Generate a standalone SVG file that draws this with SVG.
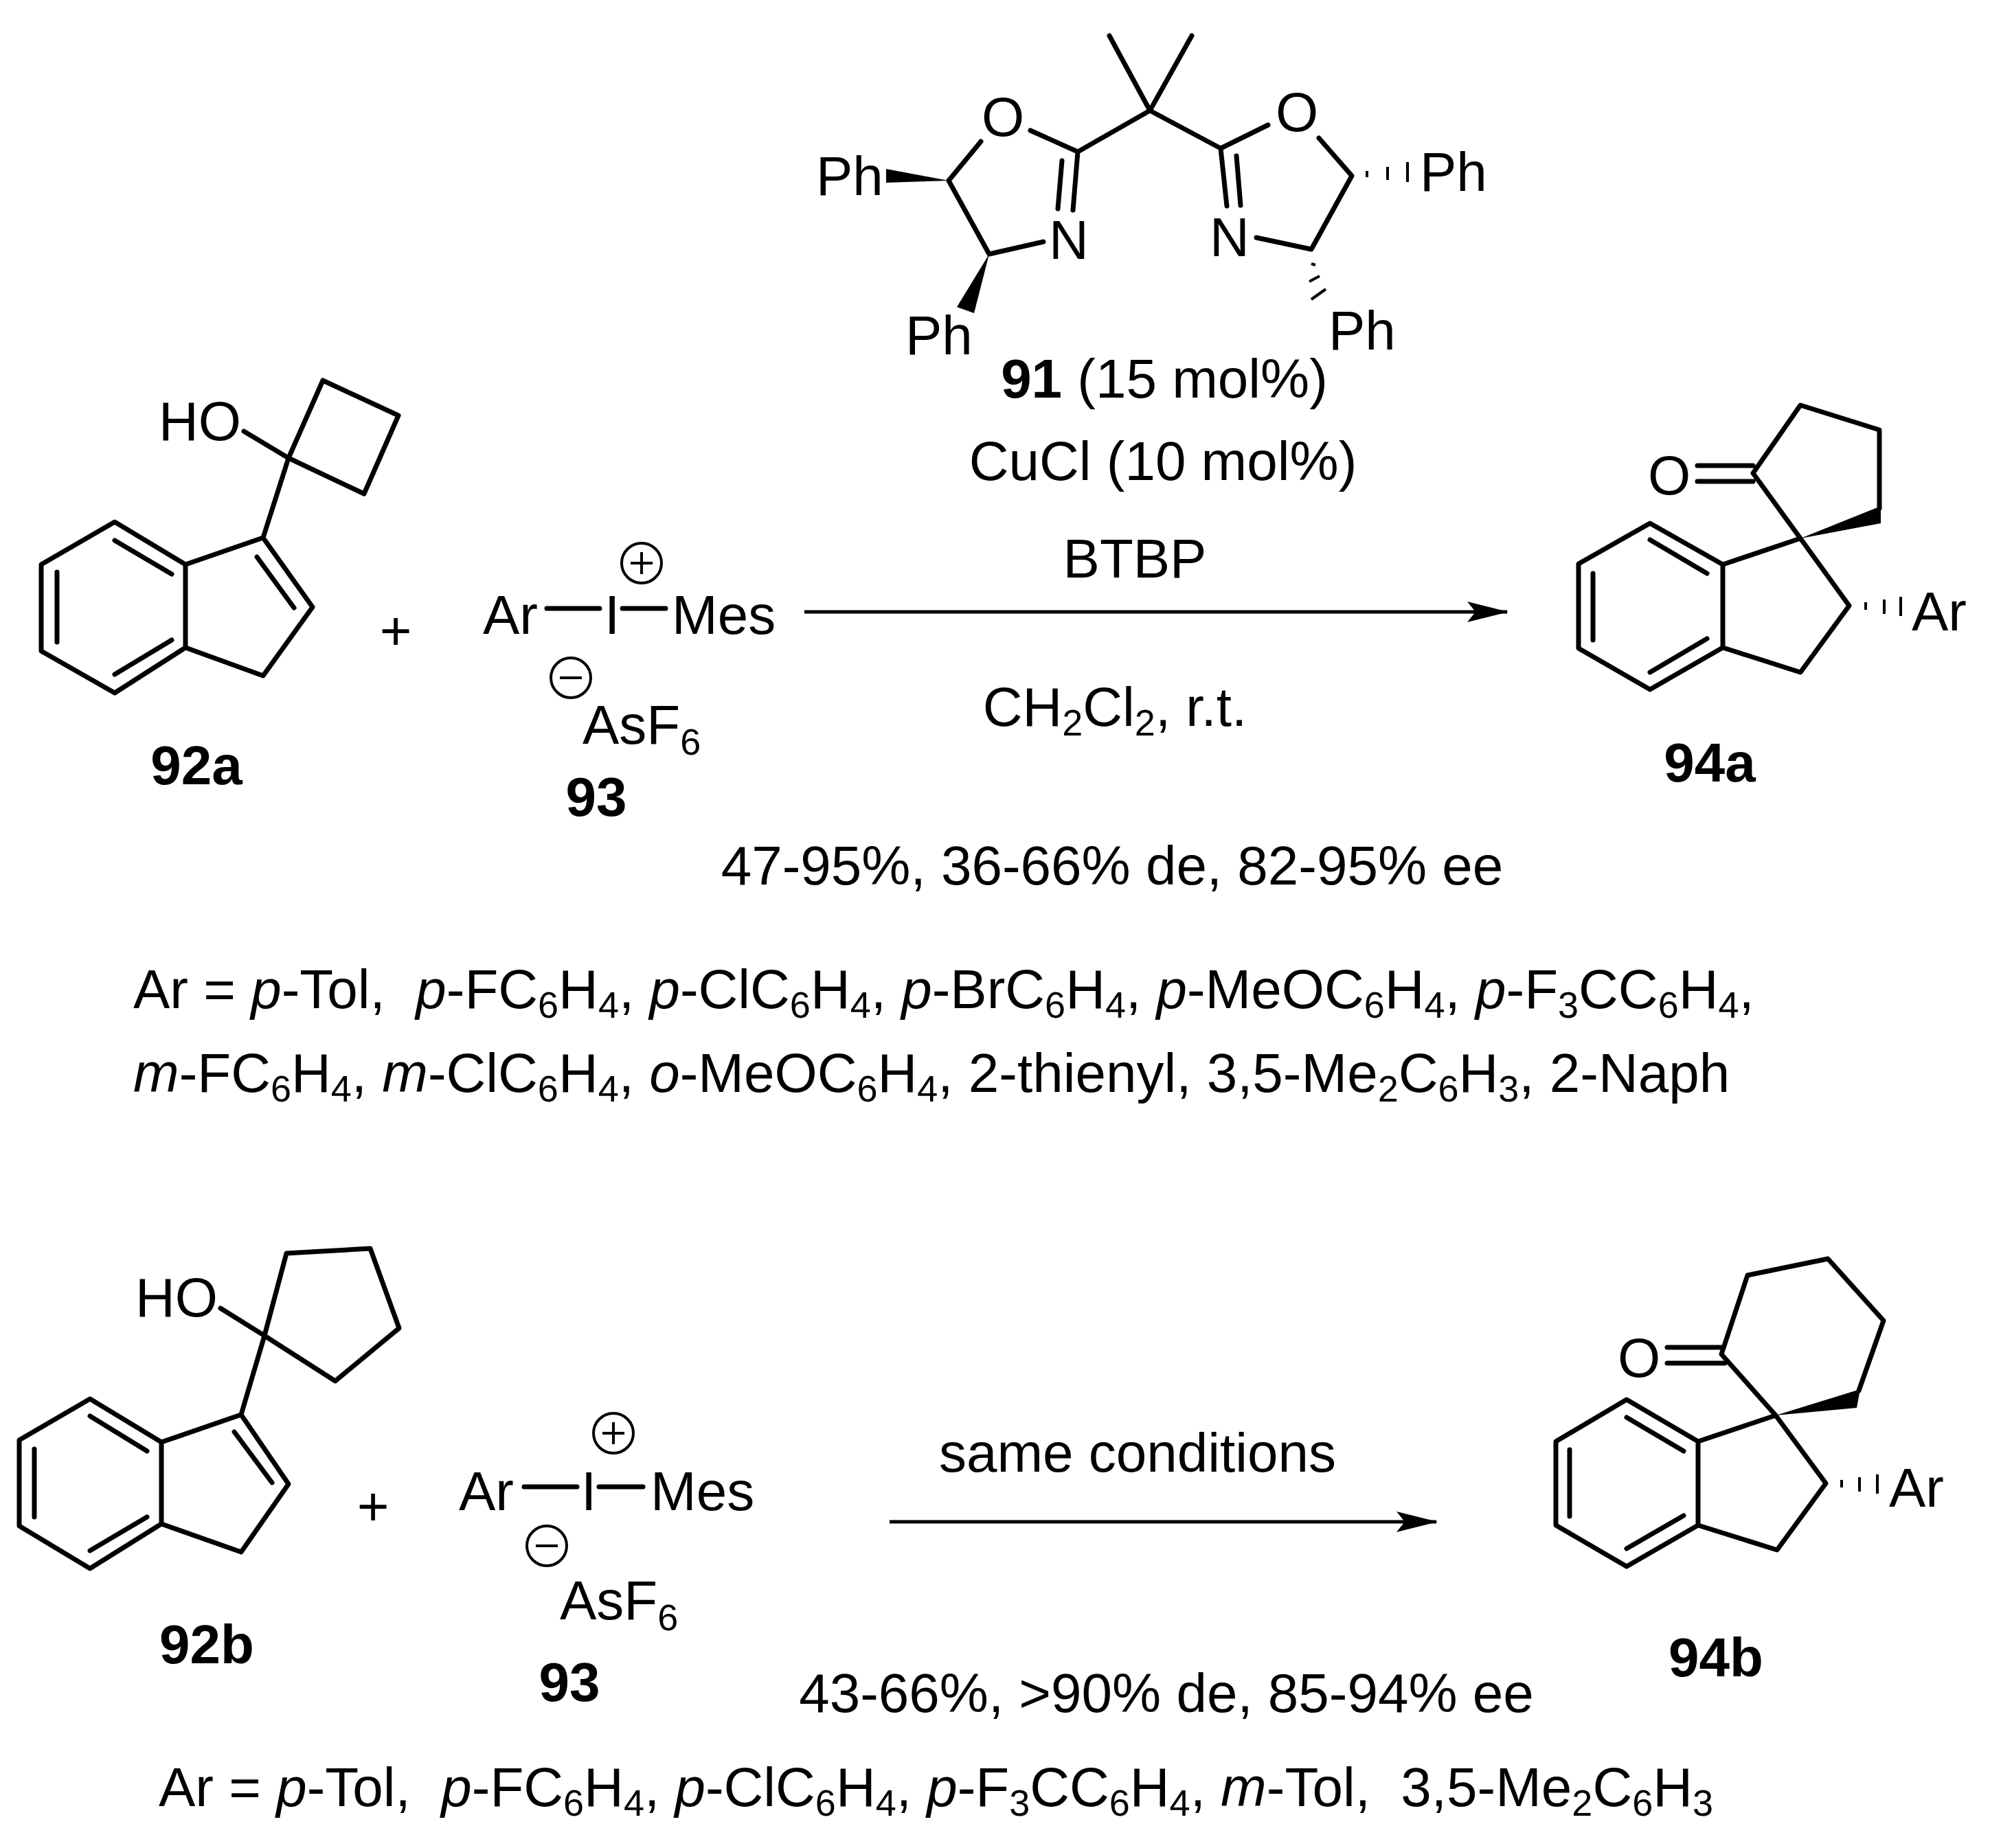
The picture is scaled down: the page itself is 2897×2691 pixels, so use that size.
<svg xmlns="http://www.w3.org/2000/svg" width="2897" height="2691" viewBox="0 0 2897 2691">
<style>
.b{stroke:#000;stroke-width:7;fill:none;stroke-linecap:round;stroke-linejoin:round}
.c{stroke:#000;stroke-width:4;fill:none}
text{font-family:"Liberation Sans",Arial,sans-serif;font-size:80px;fill:#000}
.bold{font-weight:bold}
.m{text-anchor:middle}
.i{font-style:italic}
</style>
<defs>
<marker id="ah" viewBox="0 0 60 30" refX="58" refY="15" markerWidth="60" markerHeight="30" markerUnits="userSpaceOnUse" orient="auto">
<path d="M0,0 L60,15 L0,30 L12,15 Z" fill="#000"/>
</marker>
</defs>
<rect width="2897" height="2691" fill="#fff"/>

<g id="ligand91">
<path class="b" d="M1615,52 L1674,161 L1735,52 M1674,161 L1569,221 M1674,161 L1777,216 M1500,190 L1569,221 L1562,306 M1546,234 L1540,304 M1428,206 L1381,263 L1440,370 L1519,352 M1846,182 L1777,216 L1786,300 M1800,227 L1806,299 M1920,201 L1968,256 L1909,363 L1829,346"/>
<text class="m" x="1460" y="198">O</text>
<text class="m" x="1556" y="377">N</text>
<text class="m" x="1888" y="191">O</text>
<text class="m" x="1790" y="373">N</text>
<path d="M1381,263 L1290,246 L1290,266 Z" fill="#000"/>
<text x="1188" y="284">Ph</text>
<path d="M1440,370 L1393,447 L1418,456 Z" fill="#000"/>
<text x="1318" y="516">Ph</text>
<path class="c" d="M1990,249 L1990,258 M2020,243 L2020,262 M2049,236 L2049,265" stroke-width="5"/>
<text x="2067" y="278">Ph</text>
<path class="c" d="M1909,384 L1915,386 M1906,410 L1921,402 M1909,436 L1930,421" stroke-width="5"/>
<text x="1934" y="509">Ph</text>
</g>

<g id="cond1">
<text class="m" x="1695" y="579"><tspan class="bold">91</tspan> (15 mol%)</text>
<text class="m" x="1693" y="699">CuCl (10 mol%)</text>
<text class="m" x="1652" y="841">BTBP</text>
<text class="m" x="1623" y="1057">CH<tspan dy="14" font-size="54">2</tspan><tspan dy="-14">Cl</tspan><tspan dy="14" font-size="54">2</tspan><tspan dy="-14">, r.t.</tspan></text>
<text class="m" x="1619" y="1288">47-95%, 36-66% de, 82-95% ee</text>
</g>

<g id="n92a">
<path class="b" d="M420,667 L470,554 L580,605 L530,719 Z M355,628 L420,667 L383,783 L455,884 L383,984 L270,943 L270,822 L383,783 M374,811 L428,885 M270,822 L167,760 L60,822 L60,948 L167,1009 L270,943 M167,787 L250,836 M83,833 L83,935 M167,982 L250,932"/>
<text x="231" y="641">HO</text>
<text class="m bold" x="286" y="1142">92a</text>
</g>
<text class="m" x="576" y="946">+</text>

<g id="n93a">
<text x="703" y="923">Ar</text>
<path class="b" d="M796,886 L873,886 M906,886 L969,886"/>
<text x="880" y="923">I</text>
<text x="978" y="923">Mes</text>
<circle class="c" cx="934" cy="820" r="29"/>
<path class="c" d="M918,820 L950,820 M934,804 L934,836"/>
<circle class="c" cx="831" cy="987" r="29"/>
<path class="c" d="M815,987 L847,987"/>
<text x="848" y="1083">AsF<tspan dy="16" font-size="54">6</tspan></text>
<text class="m bold" x="868" y="1188">93</text>
</g>

<g id="n94a">
<path class="b" d="M2508,822 L2402,762 L2298,821 L2298,944 L2402,1004 L2508,943 Z M2402,786 L2485,835 M2319,835 L2319,932 M2402,979 L2485,930 M2508,822 L2621,784 L2692,882 L2621,979 L2508,943 M2621,784 L2552,689 L2621,590 L2736,626 L2736,740 M2471,678 L2552,678 M2471,701 L2552,701"/>
<path d="M2621,784 L2738,737 L2738,762 Z" fill="#000"/>
<text class="m" x="2430" y="720">O</text>
<path class="c" d="M2716,877 L2716,888 M2743,873 L2743,894 M2767,869 L2767,897" stroke-width="5"/>
<text x="2783" y="918">Ar</text>
<text class="m bold" x="2489" y="1138">94a</text>
</g>

<text x="194" y="1468" xml:space="preserve">Ar = <tspan class="i">p</tspan>-Tol,  <tspan class="i">p</tspan>-FC<tspan dy="14" font-size="54">6</tspan><tspan dy="-14">H</tspan><tspan dy="14" font-size="54">4</tspan><tspan dy="-14">, </tspan><tspan class="i">p</tspan>-ClC<tspan dy="14" font-size="54">6</tspan><tspan dy="-14">H</tspan><tspan dy="14" font-size="54">4</tspan><tspan dy="-14">, </tspan><tspan class="i">p</tspan>-BrC<tspan dy="14" font-size="54">6</tspan><tspan dy="-14">H</tspan><tspan dy="14" font-size="54">4</tspan><tspan dy="-14">, </tspan><tspan class="i">p</tspan>-MeOC<tspan dy="14" font-size="54">6</tspan><tspan dy="-14">H</tspan><tspan dy="14" font-size="54">4</tspan><tspan dy="-14">, </tspan><tspan class="i">p</tspan>-F<tspan dy="14" font-size="54">3</tspan><tspan dy="-14">CC</tspan><tspan dy="14" font-size="54">6</tspan><tspan dy="-14">H</tspan><tspan dy="14" font-size="54">4</tspan><tspan dy="-14">,</tspan></text>
<text x="194" y="1590" xml:space="preserve"><tspan class="i">m</tspan>-FC<tspan dy="14" font-size="54">6</tspan><tspan dy="-14">H</tspan><tspan dy="14" font-size="54">4</tspan><tspan dy="-14">, </tspan><tspan class="i">m</tspan>-ClC<tspan dy="14" font-size="54">6</tspan><tspan dy="-14">H</tspan><tspan dy="14" font-size="54">4</tspan><tspan dy="-14">, </tspan><tspan class="i">o</tspan>-MeOC<tspan dy="14" font-size="54">6</tspan><tspan dy="-14">H</tspan><tspan dy="14" font-size="54">4</tspan><tspan dy="-14">, 2-thienyl, 3,5-Me</tspan><tspan dy="14" font-size="54">2</tspan><tspan dy="-14">C</tspan><tspan dy="14" font-size="54">6</tspan><tspan dy="-14">H</tspan><tspan dy="14" font-size="54">3</tspan><tspan dy="-14">, 2-Naph</tspan></text>

<g id="n92b">
<path class="b" d="M385,1945 L417,1825 L539,1818 L581,1934 L488,2011 Z M321,1905 L385,1945 L351,2060 L420,2161 L351,2260 L235,2219 L235,2100 L351,2060 M341,2085 L396,2159 M235,2100 L131,2037 L28,2097 L28,2222 L131,2284 L235,2219 M131,2062 L214,2113 M50,2110 L50,2209 M131,2258 L214,2209"/>
<text x="197" y="1917">HO</text>
<text class="m bold" x="301" y="2422">92b</text>
</g>
<text class="m" x="543" y="2221">+</text>

<g id="n93b">
<text x="668" y="2199">Ar</text>
<path class="b" d="M763,2165 L840,2165 M872,2165 L936,2165"/>
<text x="846" y="2199">I</text>
<text x="947" y="2199">Mes</text>
<circle class="c" cx="893" cy="2087" r="29"/>
<path class="c" d="M877,2087 L909,2087 M893,2071 L893,2103"/>
<circle class="c" cx="796" cy="2251" r="29"/>
<path class="c" d="M780,2251 L812,2251"/>
<text x="815" y="2358">AsF<tspan dy="16" font-size="54">6</tspan></text>
<text class="m bold" x="829" y="2477">93</text>
</g>

<g id="n94b">
<path class="b" d="M2472,2099 L2368,2038 L2265,2099 L2265,2221 L2368,2281 L2472,2221 Z M2368,2064 L2451,2113 M2285,2111 L2285,2208 M2368,2255 L2451,2207 M2472,2099 L2585,2061 L2658,2160 L2587,2257 L2472,2221 M2585,2061 L2506,1972 L2544,1857 L2661,1833 L2742,1923 L2706,2025 M2427,1962 L2507,1962 M2427,1985 L2511,1985"/>
<path d="M2585,2061 L2708,2023 L2703,2050 Z" fill="#000"/>
<text class="m" x="2386" y="2005">O</text>
<path class="c" d="M2681,2155 L2681,2166 M2707,2151 L2707,2172 M2733,2147 L2733,2175" stroke-width="5"/>
<text x="2750" y="2194">Ar</text>
<text class="m bold" x="2498" y="2441">94b</text>
</g>

<g id="cond2">
<text class="m" x="1656" y="2143">same conditions</text>
<text class="m" x="1698" y="2493">43-66%, &gt;90% de, 85-94% ee</text>
<text x="231" y="2630" xml:space="preserve">Ar = <tspan class="i">p</tspan>-Tol,  <tspan class="i">p</tspan>-FC<tspan dy="14" font-size="54">6</tspan><tspan dy="-14">H</tspan><tspan dy="14" font-size="54">4</tspan><tspan dy="-14">, </tspan><tspan class="i">p</tspan>-ClC<tspan dy="14" font-size="54">6</tspan><tspan dy="-14">H</tspan><tspan dy="14" font-size="54">4</tspan><tspan dy="-14">, </tspan><tspan class="i">p</tspan>-F<tspan dy="14" font-size="54">3</tspan><tspan dy="-14">CC</tspan><tspan dy="14" font-size="54">6</tspan><tspan dy="-14">H</tspan><tspan dy="14" font-size="54">4</tspan><tspan dy="-14">, </tspan><tspan class="i">m</tspan>-Tol,  3,5-Me<tspan dy="14" font-size="54">2</tspan><tspan dy="-14">C</tspan><tspan dy="14" font-size="54">6</tspan><tspan dy="-14">H</tspan><tspan dy="14" font-size="54">3</tspan></text>
</g>

<g id="connectors">
<line x1="1171" y1="891" x2="2194" y2="891" stroke="#000" stroke-width="5" marker-end="url(#ah)"/>
<line x1="1295" y1="2216" x2="2091" y2="2216" stroke="#000" stroke-width="5" marker-end="url(#ah)"/>
</g>
</svg>
